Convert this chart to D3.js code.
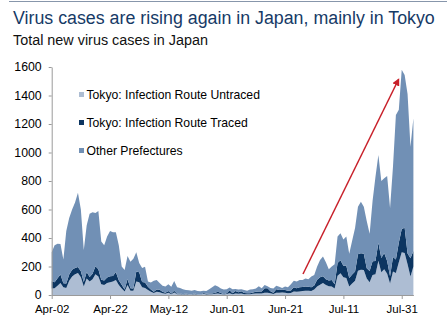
<!DOCTYPE html>
<html>
<head>
<meta charset="utf-8">
<script src="https://cdn.jsdelivr.net/npm/d3@7"></script>
<style>
  html, body { margin: 0; padding: 0; background: #fff; }
  svg { display: block; font-family: "Liberation Sans", Arial, sans-serif; }
</style>
</head>
<body>
<svg id="chart" width="447" height="323"></svg>
<script>
// ---------------- DATA ----------------
const startDate = new Date(2020, 3, 2);   // Apr-02
const endDate = new Date(2020, 7, 4);     // Aug-04 (last day)
const seriesNames = ["Tokyo: Infection Route Untraced", "Tokyo: Infection Route Traced", "Other Prefectures"];
const seriesColors = ["#adbdd3", "#0c3561", "#7190b5"];

const tokyoUntraced = [
  45,48,65,85,55,50,100,130,145,155, 125,60,115,95,110,145,130,75,70,85, 90,95,105,70,45,25,70,30,30,
  95,90,55,50,35,22,14,22,20,12, 9,16,6,17,5,6,3,6,3,3, 6,2,1,8,4,5,6,8,11,7,3,
  7,12,6,10,8,10,6,6,5,8, 10,11,10,15,16,12,7,16,15,18, 15,13,14,25,22,25,28,30,30,28,
  38,60,72,85,70,62,60,45,135,152, 125,120,60,80,100,170,178,175,115,90, 140,145,240,160,180,150,80,165,155,230,300,
  295,215,130,200
];
const tokyoTraced = [
  52,41,53,58,28,30,44,48,44,42, 41,31,46,32,39,56,51,32,32,38, 42,39,56,33,27,14,42,17,16,
  70,70,36,37,23,16,9,17,16,10, 6,12,4,13,4,5,2,4,2,2, 5,1,1,6,4,5,5,7,11,7,2,
  6,22,6,18,12,16,8,7,7,10, 12,14,14,32,32,15,9,25,20,21, 20,16,17,30,26,29,29,30,28,26,
  29,47,52,46,41,40,46,30,89,91, 81,86,59,63,65,116,115,115,73,78, 97,93,126,100,115,89,51,101,95,137,163,
  177,77,128,109
];
const otherPrefectures = [
  203,261,242,215,167,370,396,422,461,521, 434,225,329,443,431,374,409,268,248,287, 318,306,279,247,128,137,162,187,209,
  135,65,99,112,37,50,77,66,49,43, 45,47,48,68,46,39,35,25,28,25, 24,25,24,16,20,30,44,53,38,31,33,
  27,18,28,14,18,14,21,17,26,22, 23,37,24,23,14,23,29,24,23,11, 25,26,44,45,47,51,48,55,52,76,
  73,93,121,139,119,78,94,140,186,190, 184,204,171,237,305,334,362,330,332,262, 423,592,617,540,525,596,479,634,1014,933,1117,
  1072,1118,782,931
];
const yTicks = [0, 200, 400, 600, 800, 1000, 1200, 1400, 1600];
const xTickLabels = ["Apr-02", "Apr-22", "May-12", "Jun-01", "Jun-21", "Jul-11", "Jul-31"];

const titleText = "Virus cases are rising again in Japan, mainly in Tokyo";
const subtitleText = "Total new virus cases in Japan";

// ---------------- BUILD ----------------
const parseTick = d3.timeParse("%b-%d-%Y");
const xTickDates = xTickLabels.map(s => parseTick(s + "-2020"));
const dates = d3.timeDay.range(startDate, d3.timeDay.offset(endDate, 1));
const keys = ["untraced", "traced", "other"];
const table = dates.map((d, i) => ({
  date: d,
  untraced: tokyoUntraced[i],
  traced: tokyoTraced[i],
  other: otherPrefectures[i]
}));

const svg = d3.select("#chart");
const W = 447, H = 323;
const plot = { left: 51.7, right: 413.4, top: 67, bottom: 295 };

const x = d3.scaleTime().domain([startDate, endDate]).range([plot.left, plot.right]);
const y = d3.scaleLinear().domain([0, 1600]).range([plot.bottom, plot.top]);

// top rule
svg.append("line").attr("x1", 9).attr("x2", W).attr("y1", 1.5).attr("y2", 1.5)
  .attr("stroke", "#8796ab").attr("stroke-width", 1);

// title / subtitle, fitted to reference widths
function fitText(sel, targetWidth) {
  const node = sel.node();
  const fs = parseFloat(sel.attr("font-size"));
  const w = node.getComputedTextLength();
  sel.attr("font-size", (fs * targetWidth / w).toFixed(2));
  return fs * targetWidth / w;
}
const title = svg.append("text").attr("x", 13).attr("y", 23.5)
  .attr("font-size", 16).attr("fill", "#163a66").text(titleText);
fitText(title, 422);
const subtitle = svg.append("text").attr("x", 13).attr("y", 45)
  .attr("font-size", 13).attr("fill", "#111").text(subtitleText);
fitText(subtitle, 195);

// stacked areas
const stack = d3.stack().keys(keys);
const layers = stack(table);
const area = d3.area()
  .x(d => x(d.data.date))
  .y0(d => y(d[0]))
  .y1(d => y(d[1]))
  .curve(d3.curveLinear);

svg.append("g").selectAll("path").data(layers).join("path")
  .attr("d", area)
  .attr("fill", (d, i) => seriesColors[i]);

// axes
const yAxis = d3.axisLeft(y).tickValues(yTicks).tickSize(3).tickSizeOuter(0).tickPadding(7)
  .tickFormat(d3.format("d"));
const gy = svg.append("g").attr("transform", `translate(${plot.left},0)`).call(yAxis);
gy.selectAll("text").attr("font-size", 12.3).attr("fill", "#000").attr("font-family", "Liberation Sans, Arial, sans-serif");
gy.selectAll("line, path").attr("stroke", "#9a9a9a");

const xAxis = d3.axisBottom(x).tickValues(xTickDates).tickSize(4).tickSizeOuter(0).tickPadding(6)
  .tickFormat(d3.timeFormat("%b-%d"));
const gx = svg.append("g").attr("transform", `translate(0,${plot.bottom})`).call(xAxis);
gx.selectAll("text").attr("font-size", 11.5).attr("fill", "#000").attr("font-family", "Liberation Sans, Arial, sans-serif");
gx.selectAll("line, path").attr("stroke", "#9a9a9a");

// legend
const legendY = [94.5, 122.5, 150.5];
const legend = svg.append("g");
const legendTexts = [];
seriesNames.forEach((name, i) => {
  legend.append("rect").attr("x", 79).attr("y", legendY[i] - 2.5).attr("width", 5).attr("height", 5)
    .attr("fill", seriesColors[i]);
  legendTexts.push(legend.append("text").attr("x", 86.5).attr("y", legendY[i] + 4.2).attr("font-size", 11.5)
    .attr("fill", "#000").text(name));
});
const legendFs = fitText(legendTexts[0], 173.5);
legendTexts.forEach(t => t.attr("font-size", legendFs.toFixed(2)));

// red arrow
const defs = svg.append("defs");
defs.append("marker").attr("id", "arrowhead").attr("viewBox", "0 0 10 10")
  .attr("refX", 8).attr("refY", 5).attr("markerWidth", 5).attr("markerHeight", 5)
  .attr("orient", "auto")
  .append("path").attr("d", "M0,0 L10,5 L0,10 z").attr("fill", "#c8202a");
svg.append("line").attr("x1", 303).attr("y1", 274).attr("x2", 398.5).attr("y2", 79.5)
  .attr("stroke", "#c8202a").attr("stroke-width", 1.5).attr("marker-end", "url(#arrowhead)");
</script>
</body>
</html>
